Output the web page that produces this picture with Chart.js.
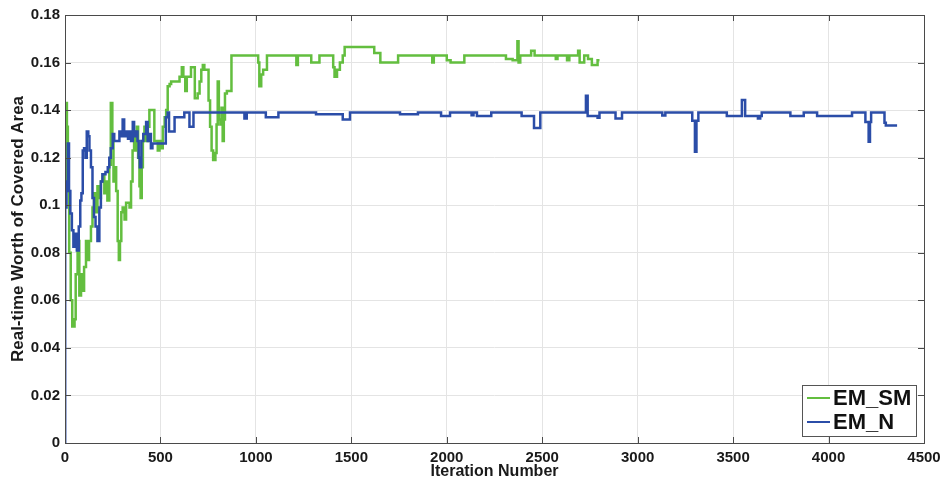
<!DOCTYPE html>
<html>
<head>
<meta charset="utf-8">
<script src="https://cdn.jsdelivr.net/npm/chart.js@4"></script>
<style>
  body { margin: 0; background: #fff; }
  canvas { display: block; }
</style>
</head>
<body>
<canvas id="chart" width="943" height="484"></canvas>
<script>
// series values: [iteration, worth], each value holds until the next point
const emSmPoints = [
  [0,0.103],[3,0.143],[10,0.133],[15,0.106],[22,0.080],[30,0.060],[38,0.049],[50,0.052],[56,0.071],
  [66,0.085],[75,0.062],[84,0.071],[92,0.064],[100,0.074],[110,0.085],[118,0.077],[126,0.085],
  [136,0.091],[144,0.099],[152,0.105],[162,0.097],[170,0.108],[180,0.103],[188,0.110],[198,0.113],
  [206,0.105],[214,0.110],[222,0.102],[232,0.117],[240,0.143],[248,0.127],[254,0.110],[260,0.116],
  [268,0.106],[276,0.085],[282,0.077],[288,0.085],[295,0.097],[302,0.099],[312,0.094],[320,0.101],
  [338,0.099],[346,0.110],[354,0.123],[362,0.131],[370,0.123],[376,0.133],[383,0.120],[390,0.108],
  [396,0.103],[402,0.116],[408,0.127],[416,0.133],[425,0.127],[434,0.133],[442,0.140],[468,0.127],
  [486,0.123],[495,0.127],[504,0.124],[512,0.133],[522,0.137],[530,0.140],[538,0.150],[548,0.151],
  [556,0.152],[600,0.154],[612,0.158],[620,0.154],[630,0.148],[638,0.154],[660,0.158],[680,0.145],
  [695,0.147],[705,0.152],[714,0.157],[722,0.159],[730,0.157],[752,0.144],[760,0.133],[768,0.123],
  [776,0.119],[788,0.122],[794,0.134],[800,0.152],[806,0.136],[814,0.134],[820,0.141],[826,0.127],
  [832,0.136],[838,0.147],[848,0.148],[872,0.163],[1012,0.160],[1018,0.150],[1028,0.155],[1038,0.157],
  [1058,0.163],[1212,0.159],[1220,0.163],[1290,0.160],[1333,0.163],[1405,0.158],[1412,0.154],
  [1425,0.157],[1440,0.160],[1455,0.163],[1465,0.1665],[1620,0.164],[1652,0.160],[1745,0.163],
  [1924,0.160],[1932,0.163],[2000,0.161],[2020,0.160],[2092,0.163],[2310,0.1615],[2345,0.161],
  [2370,0.169],[2376,0.160],[2385,0.163],[2442,0.165],[2460,0.163],[2571,0.1615],[2580,0.163],
  [2630,0.161],[2642,0.163],[2688,0.165],[2696,0.160],[2720,0.163],[2740,0.1615],[2760,0.159],
  [2790,0.161],[2800,0.161]
]
const emNPoints = [
  [0,0],[1,0.099],[8,0.110],[15,0.126],[21,0.106],[28,0.0965],[36,0.0895],[44,0.0825],[54,0.088],
  [62,0.081],[72,0.091],[80,0.102],[86,0.105],[93,0.123],[100,0.124],[107,0.120],[114,0.131],
  [122,0.129],[128,0.123],[136,0.116],[144,0.103],[152,0.095],[160,0.091],[170,0.085],[180,0.099],
  [188,0.110],[196,0.113],[212,0.114],[224,0.116],[232,0.120],[240,0.124],[250,0.130],[258,0.127],
  [285,0.131],[294,0.129],[302,0.136],[310,0.129],[320,0.131],[330,0.128],[338,0.131],[346,0.127],
  [355,0.135],[362,0.129],[372,0.131],[380,0.127],[386,0.120],[392,0.116],[400,0.127],[410,0.130],
  [425,0.135],[433,0.127],[442,0.130],[450,0.124],[458,0.126],[528,0.137],[538,0.139],[545,0.131],
  [574,0.137],[625,0.139],[652,0.133],[673,0.139],[940,0.1365],[952,0.139],[1052,0.137],[1118,0.139],
  [1315,0.1383],[1455,0.136],[1493,0.139],[1755,0.1383],[1849,0.139],[1970,0.1375],[2017,0.139],
  [2130,0.1378],[2140,0.139],[2158,0.1375],[2233,0.139],[2392,0.1375],[2457,0.1325],[2490,0.139],
  [2729,0.146],[2738,0.1375],[2790,0.1368],[2800,0.139],[2884,0.1365],[2918,0.139],[3129,0.1377],
  [3145,0.139],[3286,0.1355],[3300,0.1225],[3308,0.1355],[3318,0.139],[3467,0.1375],[3546,0.1442],
  [3563,0.1375],[3630,0.1365],[3642,0.1375],[3650,0.139],[3800,0.1375],[3870,0.139],[3940,0.1375],
  [4123,0.139],[4193,0.135],[4210,0.1267],[4217,0.135],[4223,0.139],[4293,0.1347],[4300,0.1335],
  [4359,0.1335]
]
const seriesNames = ["EM_SM", "EM_N"]
const seriesColors = ["#63be3f", "#2b4da8"]
const xTicks = [0,500,1000,1500,2000,2500,3000,3500,4000,4500]
const xTickLabels = ["0","500","1000","1500","2000","2500","3000","3500","4000","4500"]
const yTicks = [0,0.02,0.04,0.06,0.08,0.1,0.12,0.14,0.16,0.18]
const yTickLabels = ["0","0.02","0.04","0.06","0.08","0.1","0.12","0.14","0.16","0.18"]

const fontFamily = "'Liberation Sans', Arial, Helvetica, sans-serif"
const toXY = pts => pts.map(p => ({x: p[0], y: p[1]}))

//marco del area y marcas hacia dentro, como en matlab
const framePlugin = {
  id: "frame",
  afterDatasetsDraw(chart) {
    const {ctx, chartArea: a, scales} = chart
    ctx.save()
    ctx.strokeStyle = "#4a4a4a"
    ctx.lineWidth = 1
    ctx.beginPath()
    xTicks.forEach(v => {
      const px = Math.round(scales.x.getPixelForValue(v)) + 0.5
      ctx.moveTo(px, a.bottom); ctx.lineTo(px, a.bottom - 6)
      ctx.moveTo(px, a.top); ctx.lineTo(px, a.top + 6)
    })
    yTicks.forEach(v => {
      const py = Math.round(scales.y.getPixelForValue(v)) + 0.5
      ctx.moveTo(a.left, py); ctx.lineTo(a.left + 6, py)
      ctx.moveTo(a.right, py); ctx.lineTo(a.right - 6, py)
    })
    ctx.stroke()
    ctx.strokeRect(Math.round(a.left) + 0.5, Math.round(a.top) + 0.5,
      Math.round(a.right - a.left), Math.round(a.bottom - a.top))
    ctx.restore()
  }
}

//leyenda en la esquina inferior derecha
const legendPlugin = {
  id: "boxLegend",
  afterDraw(chart) {
    const {ctx, chartArea: a} = chart
    const w = 114, h = 51
    const x0 = a.right - 8 - w, y0 = a.bottom - 7 - h
    ctx.save()
    ctx.fillStyle = "#fff"
    ctx.fillRect(x0, y0, w, h)
    ctx.strokeStyle = "#555"
    ctx.lineWidth = 1
    ctx.strokeRect(x0 + 0.5, y0 + 0.5, w, h)
    ctx.font = "bold 22px " + fontFamily
    ctx.textBaseline = "middle"
    seriesNames.forEach((name, i) => {
      const cy = y0 + 13 + i * 24
      ctx.strokeStyle = seriesColors[i]
      ctx.lineWidth = 2
      ctx.beginPath()
      ctx.moveTo(x0 + 5, cy); ctx.lineTo(x0 + 28, cy)
      ctx.stroke()
      ctx.fillStyle = "#111"
      ctx.fillText(name, x0 + 31, cy + 1)
    })
    ctx.restore()
  }
}

const ctx = document.getElementById("chart").getContext("2d")
const chart = new Chart(ctx, {
  type: "line",
  data: {
    datasets: [
      {label: seriesNames[0], data: toXY(emSmPoints), borderColor: seriesColors[0], order: 1},
      {label: seriesNames[1], data: toXY(emNPoints), borderColor: seriesColors[1], order: 0}
    ].map(d => Object.assign(d, {stepped: true, borderWidth: 2.5, pointRadius: 0, fill: false}))
  },
  options: {
    responsive: false,
    animation: false,
    layout: {padding: {top: 15, right: 19, left: 0, bottom: 0}},
    plugins: {legend: {display: false}, tooltip: {enabled: false}},
    scales: {
      x: {
        type: "linear",
        min: 0, max: 4500,
        afterBuildTicks: s => { s.ticks = xTicks.map(v => ({value: v})) },
        afterFit: s => { s.height = 41; s.paddingRight = 0; s.paddingLeft = 0 },
        grid: {color: "#e4e4e4", drawTicks: false},
        border: {display: false},
        ticks: {padding: 6, color: "#1a1a1a", maxRotation: 0, callback: (v, i) => xTickLabels[i],
          font: {family: fontFamily, size: 15, weight: "bold"}},
        title: {display: true, text: "Iteration Number", color: "#1a1a1a",
          padding: {top: 0, bottom: 3}, font: {family: fontFamily, size: 16, weight: "bold"}}
      },
      y: {
        min: 0, max: 0.18,
        afterBuildTicks: s => { s.ticks = yTicks.map(v => ({value: v})) },
        afterFit: s => { s.width = 65 },
        grid: {color: "#e4e4e4", drawTicks: false},
        border: {display: false},
        ticks: {padding: 5, color: "#1a1a1a", callback: (v, i) => yTickLabels[i],
          font: {family: fontFamily, size: 15, weight: "bold"}},
        title: {display: true, text: "Real-time Worth of Covered Area", color: "#1a1a1a",
          padding: {top: 8, bottom: 0}, font: {family: fontFamily, size: 17, weight: "bold"}}
      }
    }
  },
  plugins: [framePlugin, legendPlugin]
})
</script>
</body>
</html>
